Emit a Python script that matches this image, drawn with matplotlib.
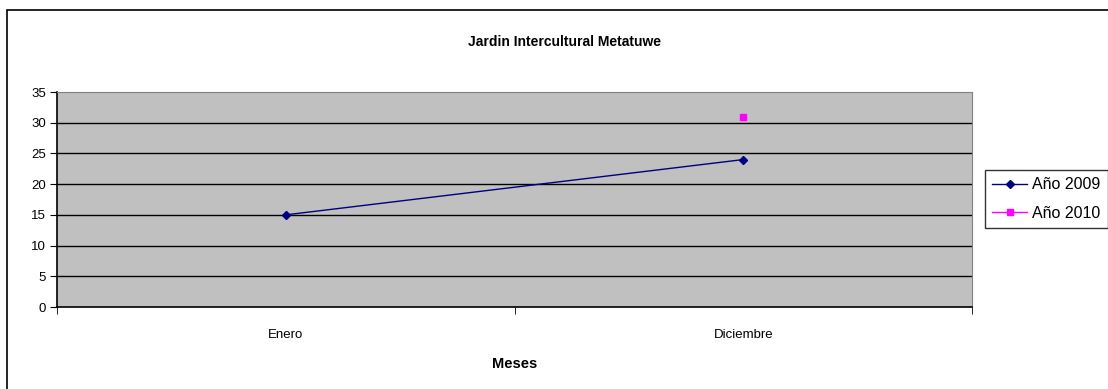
import matplotlib.pyplot as plt
from matplotlib.patches import Rectangle

MONTHS = ["Enero", "Diciembre"]
SERIES_2009 = [15, 24]
SERIES_2010 = [None, 31]
YTICKS = [0, 5, 10, 15, 20, 25, 30, 35]

W, H = 1108, 389

plt.rcParams["font.family"] = ["Liberation Sans", "DejaVu Sans"]

fig = plt.figure(figsize=(W / 100, H / 100), dpi=100)

# outer chart border (cut off at right and bottom like the original)
fig.patches.append(Rectangle((7 / W, -0.1), 1.2, 1 - 10 / H + 0.1, transform=fig.transFigure,
                             fill=False, edgecolor="#000000", linewidth=1.2))

ax = fig.add_axes([57 / W, 1 - 307 / H, (972 - 57) / W, (307 - 92) / H])
ax.set_facecolor("#c0c0c0")

x = list(range(len(MONTHS)))
ax.plot(x, SERIES_2009, color="#000080", marker="D", markersize=4, linewidth=1.0, label="Año 2009")
x10 = [i for i, v in zip(x, SERIES_2010) if v is not None]
y10 = [v for v in SERIES_2010 if v is not None]
ax.plot(x10, y10, color="#ff00ff", marker="s", markersize=5, linewidth=1.0, label="Año 2010")

ax.set_xlim(-0.5, len(MONTHS) - 0.5)
ax.set_ylim(0, 35)
ax.set_yticks(YTICKS)
ax.set_yticklabels([str(t) for t in YTICKS], fontsize=9.5)
for t in YTICKS[1:-1]:
    ax.axhline(t, color="#000000", linewidth=1.0, zorder=1)

ax.set_xticks(x)
ax.set_xticklabels(MONTHS, fontsize=9.5)
ax.tick_params(axis="x", length=0, pad=16)
ax.set_xticks([-0.5, 0.5, 1.5], minor=True)
ax.tick_params(axis="x", which="minor", length=5, direction="out", color="#000000")
ax.tick_params(axis="y", length=5, direction="out", pad=3)

for side in ["top", "right"]:
    ax.spines[side].set_color("#808080")
for side in ["left", "bottom"]:
    ax.spines[side].set_color("#000000")
    ax.spines[side].set_linewidth(1.2)

ax.set_xlabel("Meses", fontsize=10.5, fontweight="bold", labelpad=11)
fig.text(565 / W, 1 - 42 / H, "Jardin Intercultural Metatuwe", ha="center", va="center",
         fontsize=10, fontweight="bold")

# legend runs off the right edge, as in the original
fig.legend(loc="upper left", bbox_to_anchor=(985 / W, 1 - 170 / H), fontsize=11.5,
           frameon=True, fancybox=False, edgecolor="#000000", borderpad=0.45,
           handlelength=2.2, handletextpad=0.3, labelspacing=0.85, borderaxespad=0)

fig.savefig("out.png", dpi=100)
